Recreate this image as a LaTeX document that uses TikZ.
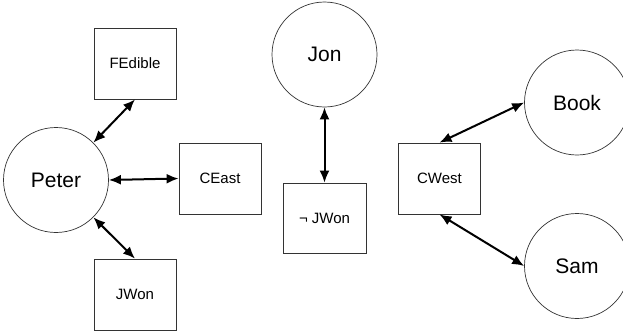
\documentclass[tikz,border=0pt]{standalone}
\usepackage{fontspec}
\setmainfont{Liberation Sans}
\usetikzlibrary{arrows.meta}
\begin{document}
\begin{tikzpicture}[x=1pt,y=-1pt,
  ent/.style={circle,draw=black!80,line width=0.7pt,minimum size=105pt,inner sep=0pt,font=\fontsize{21}{24}\selectfont},
  prop/.style={rectangle,draw=black!80,line width=0.8pt,minimum width=82pt,minimum height=71pt,inner sep=0pt,font=\fontsize{15}{18}\selectfont},
  link/.style={line width=2pt,{Latex[length=12pt,width=10pt]}-{Latex[length=12pt,width=10pt]}}]
\useasboundingbox (0,0) rectangle (623,332);
\node[ent] (peter) at (56,180) {Peter};
\node[prop] (fedible) at (135,63.5) {FEdible};
\node[prop] (ceast) at (220,178.5) {CEast};
\node[prop] (jwon) at (135,294.5) {JWon};
\node[ent] (jon) at (324.5,54.5) {Jon};
\node[prop,minimum width=83pt,minimum height=70pt] (njwon) at (324.5,218) {¬ JWon};
\node[prop] (cwest) at (439.5,178.5) {CWest};
\node[ent] (book) at (577,102.5) {Book};
\node[ent] (sam) at (577,266) {Sam};
\draw[link] (peter.north east) -- (fedible.south);
\draw[link] (peter.east) -- (ceast.west);
\draw[link] (peter.south east) -- (jwon.north);
\draw[link] (jon.south) -- (njwon.north);
\draw[link] (cwest.north) -- (book.west);
\draw[link] (cwest.south) -- (sam.west);
\end{tikzpicture}
\end{document}
